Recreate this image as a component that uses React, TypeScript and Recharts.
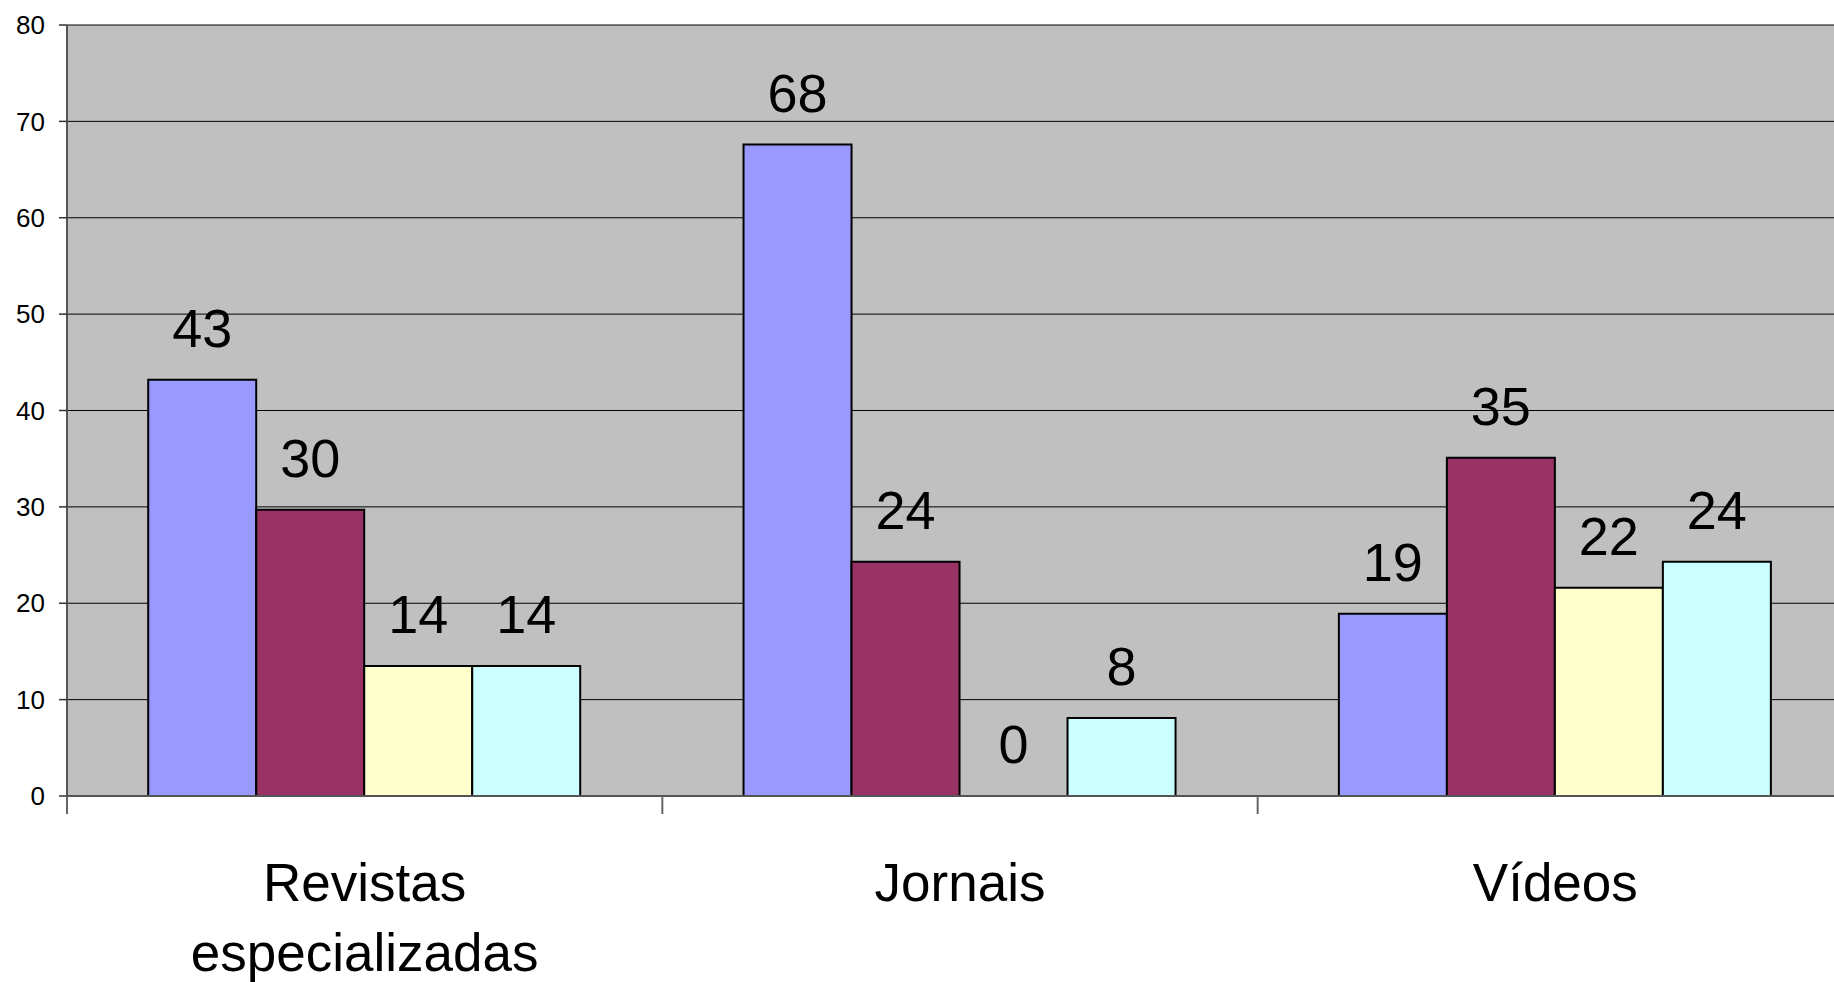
import React from 'react';
import { BarChart, Bar, XAxis, YAxis, CartesianGrid, LabelList } from 'recharts';

const categories = ['Revistas\nespecializadas', 'Jornais', 'Vídeos'];
const serie1 = [43.2, 67.6, 18.9];
const serie2 = [29.7, 24.3, 35.1];
const serie3 = [13.5, 0, 21.6];
const serie4 = [13.5, 8.1, 24.3];
const yTicks = [0, 10, 20, 30, 40, 50, 60, 70, 80];

const data = categories.map((name, i) => ({
  name,
  s1: serie1[i],
  s2: serie2[i],
  s3: serie3[i],
  s4: serie4[i],
}));

const FONT = '"Liberation Sans", Arial, sans-serif';

const series = [
  { key: 's1', color: '#9999FF' },
  { key: 's2', color: '#993366' },
  { key: 's3', color: '#FFFFCC' },
  { key: 's4', color: '#CCFFFF' },
];

// category label + a tick mark on the left edge of each category band
const CategoryTick = (props: any) => {
  const { x, y, payload } = props;
  const lines = String(payload.value).split('\n');
  const half = Number(payload.offset) || 0;
  return (
    <g>
      {half > 0 && (
        <line x1={x - half} x2={x - half} y1={y} y2={y + 18} stroke="#666" strokeWidth={2} />
      )}
      <text x={x} y={y} textAnchor="middle" fill="#000" fontSize={53} fontFamily={FONT}>
        {lines.map((line, i) => (
          <tspan key={i} x={x} dy={i === 0 ? 105 : 70}>
            {line}
          </tspan>
        ))}
      </text>
    </g>
  );
};

const App: React.FC = () => {
  return (
    <div style={{ position: 'absolute', left: 0, top: 0, width: 1834, height: 982, overflow: 'hidden', background: '#fff' }}>
      <BarChart
        width={1853}
        height={982}
        data={data}
        margin={{ top: 25, right: 0, left: 0, bottom: 0 }}
        barCategoryGap="13.64%"
        barGap={0}
      >
        <CartesianGrid vertical={false} fill="#C0C0C0" stroke="#000" strokeWidth={1} fillOpacity={1} />
        <XAxis
          dataKey="name"
          height={186}
          axisLine={{ stroke: '#555', strokeWidth: 2 }}
          tickLine={false}
          tickSize={0}
          tickMargin={0}
          interval={0}
          tick={<CategoryTick />}
        />
        <YAxis
          domain={[0, 80]}
          ticks={yTicks}
          interval={0}
          width={67}
          tickSize={8}
          tickMargin={14}
          tick={{ fill: '#000', fontSize: 26, fontFamily: FONT }}
          tickLine={{ stroke: '#333', strokeWidth: 1.5 }}
          axisLine={{ stroke: '#555', strokeWidth: 2 }}
        />
        {series.map((s) => (
          <Bar
            key={s.key}
            dataKey={s.key}
            fill={s.color}
            stroke="#000"
            strokeWidth={2}
            minPointSize={0.01}
            isAnimationActive={false}
          >
            <LabelList
              dataKey={s.key}
              position="top"
              offset={33}
              formatter={(v: any) => String(Math.round(Number(v)))}
              fill="#000"
              fontSize={54}
              fontFamily={FONT}
            />
          </Bar>
        ))}
      </BarChart>
    </div>
  );
};

export default App;
